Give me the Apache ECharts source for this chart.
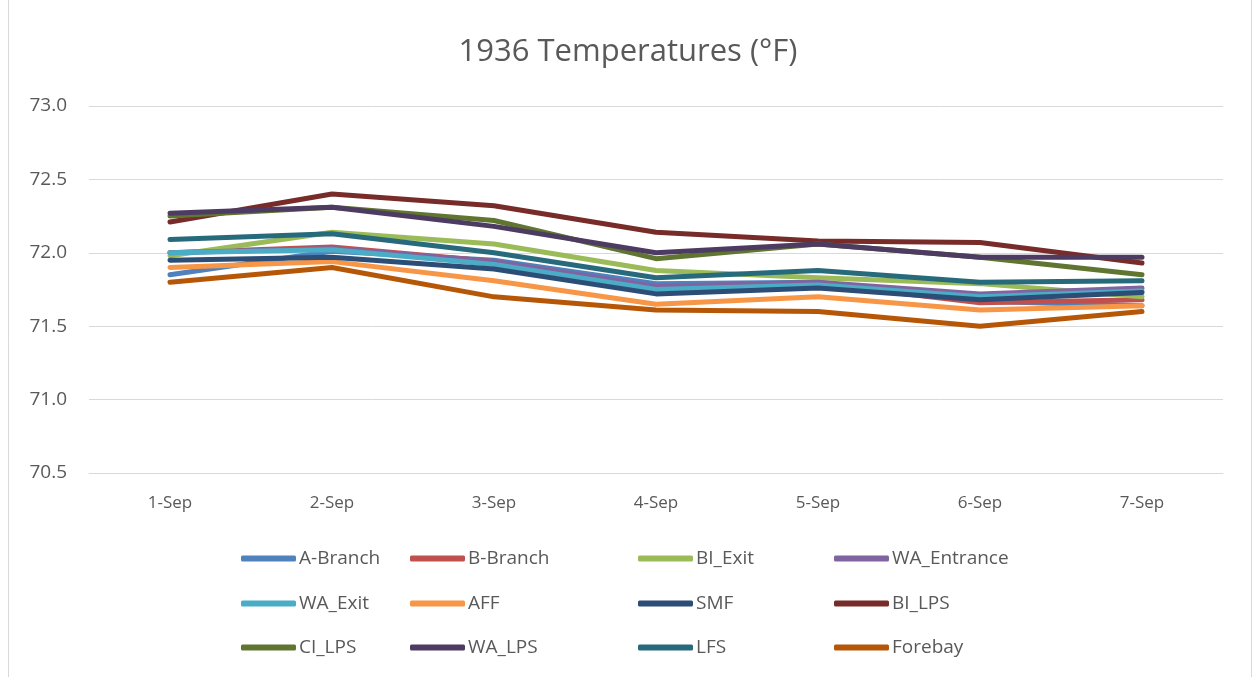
<!DOCTYPE html>
<html><head><meta charset="utf-8">
<script src="https://cdn.jsdelivr.net/npm/echarts@6/dist/echarts.min.js"></script>
<style>html,body{margin:0;padding:0;background:#fff}#c{width:1256px;height:677px}</style>
</head><body><div id="c"></div>
<script>
const categories = ['1-Sep','2-Sep','3-Sep','4-Sep','5-Sep','6-Sep','7-Sep'];
const seriesNames = ['A-Branch','B-Branch','BI_Exit','WA_Entrance','WA_Exit','AFF','SMF','BI_LPS','CI_LPS','WA_LPS','LFS','Forebay'];
const aBranch    = [71.85, 72.01, 71.95, 71.79, 71.80, 71.67, 71.64];
const bBranch    = [72.00, 72.04, 71.94, 71.76, 71.79, 71.66, 71.68];
const biExit     = [71.98, 72.14, 72.06, 71.88, 71.83, 71.79, 71.70];
const waEntrance = [72.00, 72.03, 71.94, 71.77, 71.80, 71.72, 71.76];
const waExit     = [72.00, 72.02, 71.92, 71.75, 71.78, 71.70, 71.74];
const aff        = [71.90, 71.94, 71.81, 71.65, 71.70, 71.61, 71.64];
const smf        = [71.95, 71.97, 71.89, 71.72, 71.76, 71.68, 71.73];
const biLps      = [72.21, 72.40, 72.32, 72.14, 72.08, 72.07, 71.93];
const ciLps      = [72.25, 72.31, 72.22, 71.96, 72.06, 71.97, 71.85];
const waLps      = [72.27, 72.31, 72.18, 72.00, 72.06, 71.97, 71.97];
const lfs        = [72.09, 72.13, 72.00, 71.83, 71.88, 71.80, 71.81];
const forebay    = [71.80, 71.90, 71.70, 71.61, 71.60, 71.50, 71.60];
const yTicks = [70.5, 71.0, 71.5, 72.0, 72.5, 73.0];

const values = [aBranch,bBranch,biExit,waEntrance,waExit,aff,smf,biLps,ciLps,waLps,lfs,forebay];
const colors = ['#4F81BD','#C0504D','#9BBB59','#8064A2','#4BACC6','#F79646','#2C4D75','#772C2A','#5F7530','#4D3B62','#276A7C','#B65708'];
const FONT = 'Open Sans';
const colX = [241, 410, 638, 834];
const rowY = [549, 594, 638];

const legends = seriesNames.map((n, i) => ({
  data: [n], left: colX[i % 4], top: rowY[Math.floor(i / 4)], padding: 0,
  itemWidth: 55, itemHeight: 6, itemGap: 0, icon: 'roundRect',
  textStyle: {fontFamily: FONT, fontSize: 19, color: '#595959', padding: [0,0,0,-2]},
  selectedMode: false
}));

const chart = echarts.init(document.getElementById('c'));
chart.setOption({
  animation: false,
  color: colors,
  title: {text: '1936 Temperatures (°F)', left: 'center', top: 32,
    textStyle: {fontFamily: FONT, fontSize: 31, fontWeight: 'normal', color: '#595959'}},
  graphic: [{type: 'rect', shape: {x: 8.5, y: -1, width: 1243, height: 690},
    style: {fill: 'none', stroke: '#d9d9d9', lineWidth: 1}, silent: true}],
  legend: legends,
  grid: {left: 89, right: 33, top: 106, bottom: 204},
  xAxis: {type: 'category', data: categories, boundaryGap: true,
    axisLine: {lineStyle: {color: '#d9d9d9', width: 1}},
    axisTick: {show: false},
    axisLabel: {fontFamily: FONT, fontSize: 17, color: '#595959', margin: 22}},
  yAxis: {type: 'value', min: yTicks[0], max: yTicks[yTicks.length-1], interval: 0.5,
    axisLine: {show: false}, axisTick: {show: false},
    splitLine: {lineStyle: {color: '#d9d9d9', width: 1}},
    axisLabel: {fontFamily: FONT, fontSize: 19, color: '#595959', margin: 22,
      formatter: v => v.toFixed(1)}},
  series: seriesNames.map((n, i) => ({
    name: n, type: 'line', data: values[i], symbol: 'none',
    lineStyle: {width: 5, color: colors[i], cap: 'round', join: 'round'},
    itemStyle: {color: colors[i]}
  }))
});
</script></body></html>
